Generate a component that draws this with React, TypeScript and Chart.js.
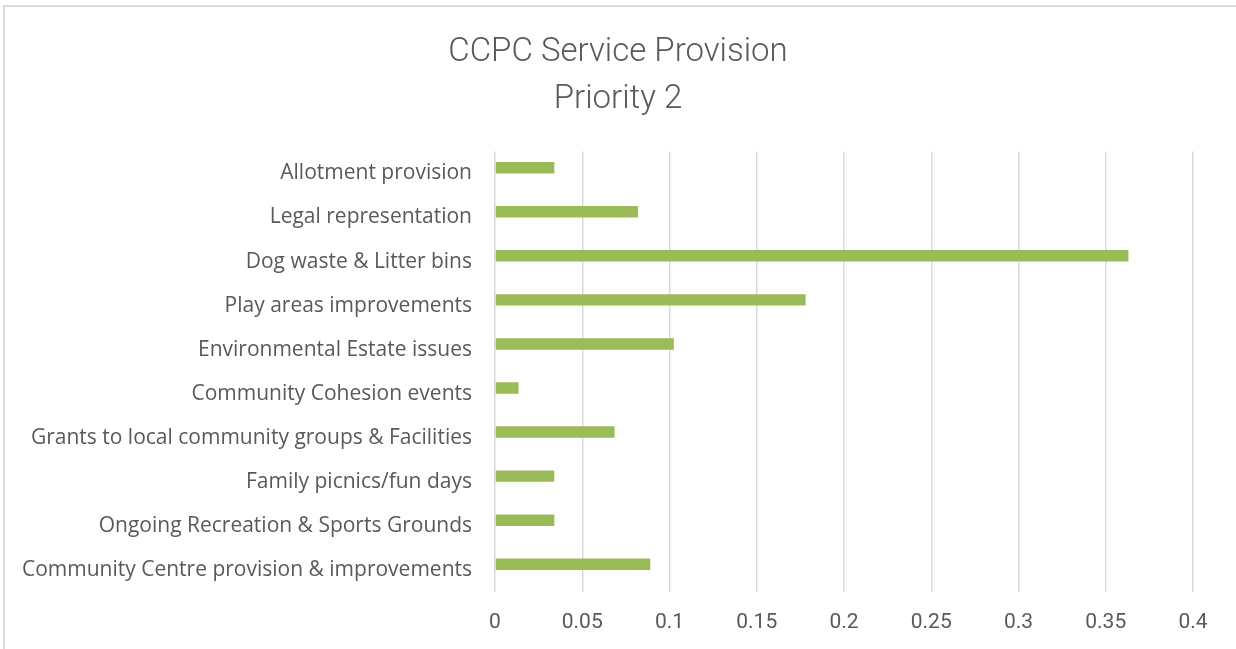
import React, { useEffect, useRef } from "react";
import { Chart, registerables } from "chart.js";

Chart.register(...registerables);

const titleLines = ["CCPC Service Provision", "Priority 2"];

const categories = [
  "Allotment provision",
  "Legal representation",
  "Dog waste & Litter bins",
  "Play areas improvements",
  "Environmental Estate issues",
  "Community Cohesion events",
  "Grants to local community groups & Facilities",
  "Family picnics/fun days",
  "Ongoing Recreation & Sports Grounds",
  "Community Centre provision & improvements",
];

const priority2Values = [0.034, 0.082, 0.363, 0.178, 0.1025, 0.0135, 0.0685, 0.034, 0.034, 0.089];

// empty second series slot (present in the original workbook, no values)
const emptySeriesValues = [null, null, null, null, null, null, null, null, null, null];

const xTickLabels = ["0", "0.05", "0.1", "0.15", "0.2", "0.25", "0.3", "0.35", "0.4"];

const TEXT = "#595959";
const GRID = "#d9d9d9";
const BAR = "#9bbb59";

export default function App() {
  const canvasRef = useRef<HTMLCanvasElement | null>(null);

  useEffect(() => {
    if (!canvasRef.current) return;
    const chart = new Chart(canvasRef.current, {
      type: "bar",
      data: {
        labels: categories,
        datasets: [
          {
            label: "Priority 2",
            data: priority2Values,
            backgroundColor: BAR,
            borderWidth: 0,
            categoryPercentage: 0.52,
            barPercentage: 1,
          },
          {
            label: "",
            data: emptySeriesValues as any,
            backgroundColor: "rgba(0,0,0,0)",
            borderWidth: 0,
            categoryPercentage: 0.52,
            barPercentage: 1,
          },
        ],
      },
      options: {
        indexAxis: "y",
        animation: false,
        responsive: true,
        maintainAspectRatio: false,
        layout: { padding: { left: 0, right: 0, top: 0, bottom: 0 } },
        plugins: {
          legend: { display: false },
          tooltip: { enabled: false },
          title: {
            display: true,
            text: titleLines,
            color: TEXT,
            font: { family: "Roboto", size: 33, weight: "300" as any, lineHeight: 1.4 },
            padding: { top: 30, bottom: 29 },
          },
        },
        scales: {
          x: {
            type: "linear",
            min: 0,
            max: 0.4,
            ticks: {
              stepSize: 0.05,
              color: TEXT,
              font: { family: "Roboto", size: 21 },
              padding: 18,
              callback: (_v: any, i: number) => xTickLabels[i],
            },
            grid: { color: GRID, lineWidth: 1.5, drawTicks: false },
            border: { display: false },
            afterFit: (s: any) => {
              s.height = 57;
            },
          },
          y: {
            type: "category",
            ticks: {
              color: TEXT,
              font: { family: "Open Sans", size: 21 },
              padding: 23,
              autoSkip: false,
            },
            grid: { display: false, drawTicks: false },
            border: { display: false },
            afterFit: (s: any) => {
              s.width = 495;
            },
          },
          yRightMargin: {
            type: "category",
            position: "right",
            display: true,
            ticks: { display: false },
            grid: { display: false, drawTicks: false },
            border: { display: false },
            afterFit: (s: any) => {
              s.width = 43;
            },
          },
        },
      },
    });
    return () => chart.destroy();
  }, []);

  return (
    <div style={{ position: "absolute", left: 0, top: 0, width: 1236, height: 649, background: "#fff", overflow: "hidden" }}>
      <div
        style={{
          position: "absolute",
          left: 3,
          top: 5,
          width: 1233,
          height: 644,
          borderTop: "2px solid #dcdcdc",
          borderLeft: "2px solid #dcdcdc",
          boxSizing: "border-box",
        }}
      />
      <div style={{ position: "absolute", left: 0, top: 0, width: 1236, height: 649 }}>
        <canvas ref={canvasRef} />
      </div>
    </div>
  );
}
